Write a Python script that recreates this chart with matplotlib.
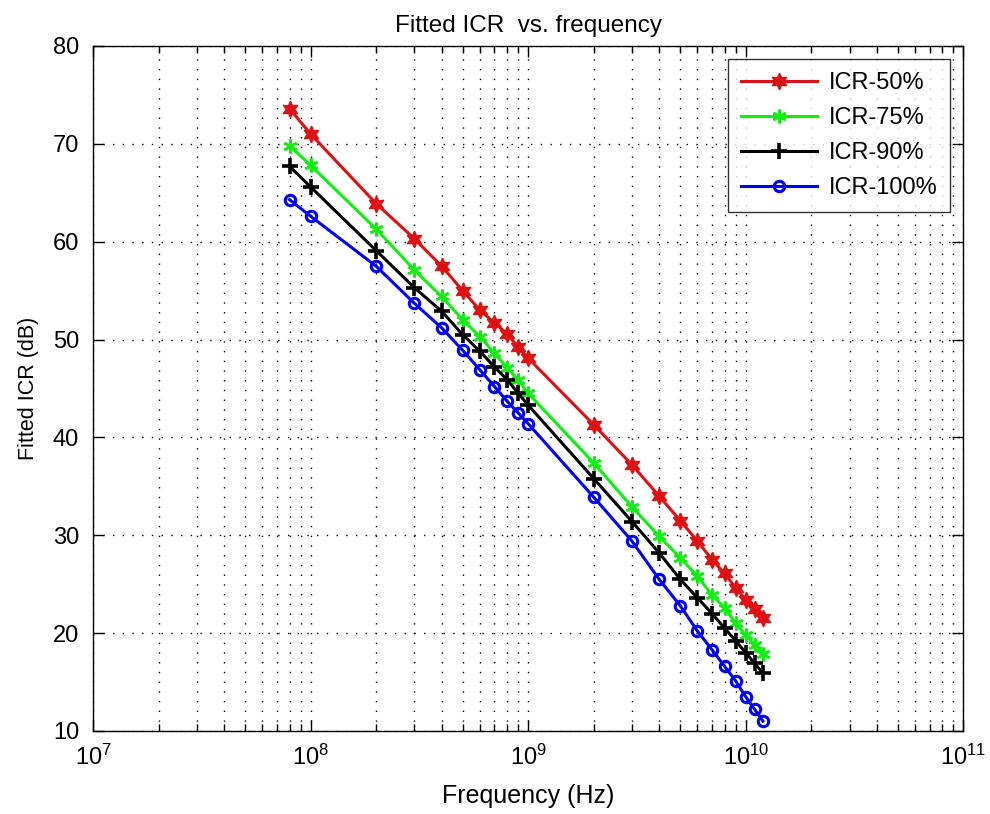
import matplotlib
matplotlib.use("Agg")
import matplotlib.pyplot as plt
from matplotlib.ticker import LogLocator, FixedLocator

freq = [8e7, 1e8, 2e8, 3e8, 4e8, 5e8, 6e8, 7e8, 8e8, 9e8, 1e9,
        2e9, 3e9, 4e9, 5e9, 6e9, 7e9, 8e9, 9e9, 1e10, 1.1e10, 1.2e10]

icr50 = [73.6, 71.0, 63.9, 60.3, 57.5, 55.0, 53.0, 51.7, 50.6, 49.2, 48.1,
         41.3, 37.2, 34.0, 31.5, 29.4, 27.5, 26.1, 24.6, 23.4, 22.5, 21.5]
icr75 = [69.8, 67.8, 61.3, 57.1, 54.4, 52.0, 50.3, 48.6, 47.1, 45.9, 44.5,
         37.4, 32.9, 29.9, 27.7, 25.8, 23.9, 22.6, 21.0, 19.8, 18.8, 17.9]
icr90 = [67.7, 65.6, 59.1, 55.3, 52.9, 50.5, 48.8, 47.2, 45.9, 44.5, 43.3,
         35.8, 31.4, 28.2, 25.5, 23.6, 22.0, 20.5, 19.2, 18.0, 16.9, 15.9]
icr100 = [64.3, 62.6, 57.5, 53.7, 51.2, 48.9, 46.9, 45.2, 43.7, 42.5, 41.4,
          33.9, 29.4, 25.5, 22.8, 20.2, 18.3, 16.6, 15.1, 13.5, 12.2, 11.0]

labels = ["ICR-50%", "ICR-75%", "ICR-90%", "ICR-100%"]
yticks = [10, 20, 30, 40, 50, 60, 70, 80]

font = ["Liberation Sans", "DejaVu Sans"]
plt.rcParams["font.family"] = font
plt.rcParams["mathtext.fontset"] = "custom"
plt.rcParams["mathtext.rm"] = "Liberation Sans"

fig = plt.figure(figsize=(9.9, 8.14), dpi=100)
ax = fig.add_axes([0.094, 0.102, 0.879, 0.8415])

lw = 2.2
ax.plot(freq, icr50, color="#dd1111", lw=lw, marker=(6, 1, 0), ms=12,
        mfc="#dd1111", mec="#dd1111", label=labels[0])
ax.plot(freq, icr75, color="#11ee11", lw=lw, marker=(6, 2, 0), ms=10,
        mec="#11ee11", mew=1.8, label=labels[1])
ax.plot(freq, icr90, color="black", lw=lw, marker="+", ms=12,
        mew=2.6, label=labels[2])
ax.plot(freq, icr100, color="#0000ee", lw=lw, marker="o", ms=7.5,
        mfc="none", mec="#0000ee", mew=2.2, label=labels[3])

ax.set_xscale("log")
ax.set_xlim(1e7, 1e11)
ax.set_ylim(10, 80)
ax.yaxis.set_major_locator(FixedLocator(yticks))
ax.xaxis.set_major_locator(LogLocator(base=10, numticks=10))
ax.xaxis.set_minor_locator(LogLocator(base=10, subs=range(2, 10), numticks=20))

grid_style = dict(color="black", linestyle=(0, (1, 6)), linewidth=1.0)
ax.grid(True, which="major", axis="both", **grid_style)
ax.grid(True, which="minor", axis="x", **grid_style)

ax.tick_params(which="both", direction="in", top=True, right=True,
               labelsize=17, width=1.0)
ax.tick_params(which="major", length=8, pad=10)
ax.tick_params(which="minor", length=5)
for s in ax.spines.values():
    s.set_linewidth(1.0)

ax.set_title("Fitted ICR  vs. frequency", fontsize=17.5, pad=10)
ax.set_xlabel("Frequency (Hz)", fontsize=18, labelpad=10)
ax.set_ylabel("Fitted ICR (dB)", fontsize=15.5, labelpad=10)

leg = ax.legend(loc="upper right", fontsize=17, frameon=True, fancybox=False,
                edgecolor="black", borderpad=0.55, handlelength=3.2,
                labelspacing=0.55, borderaxespad=0.55, handletextpad=0.5)
leg.get_frame().set_linewidth(1.0)

fig.savefig("out.png", dpi=100)
